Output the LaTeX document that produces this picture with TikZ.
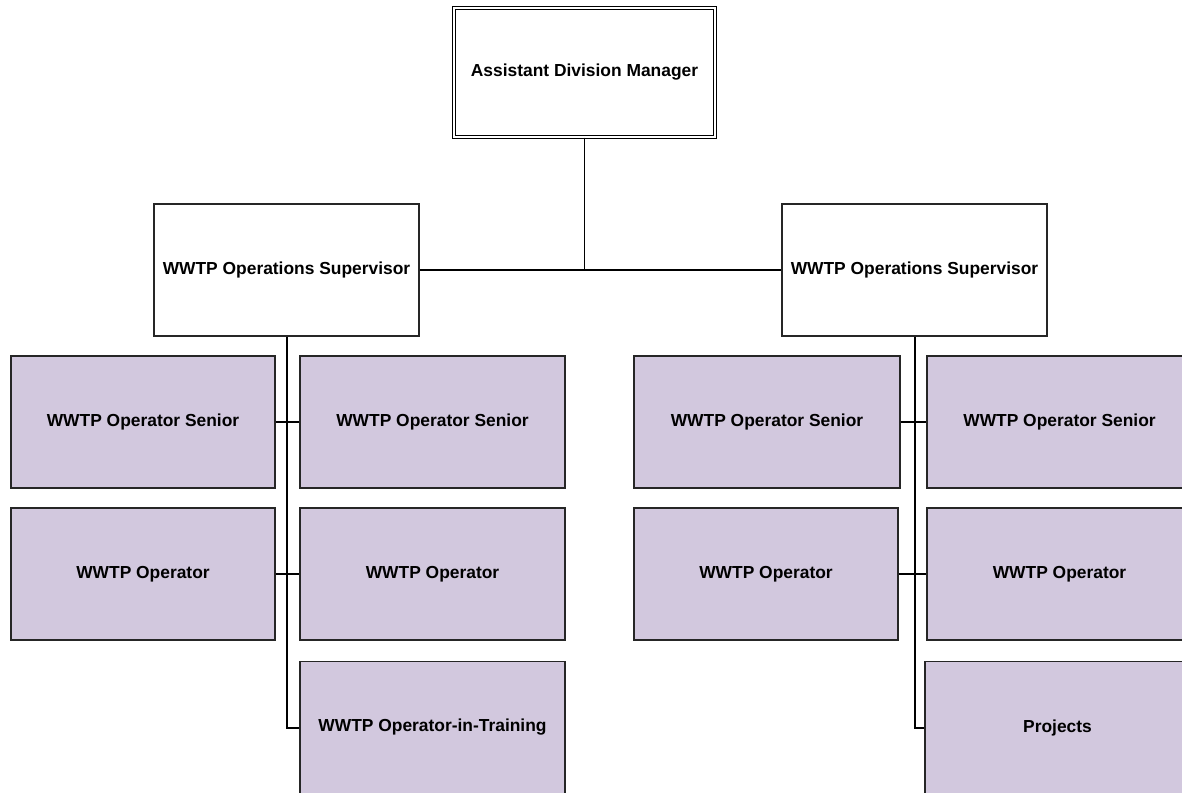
\documentclass[tikz,border=0pt]{standalone}
\usepackage{fontspec}
\setmainfont{Liberation Sans}
\definecolor{lav}{RGB}{210,200,222}
\begin{document}
\begin{tikzpicture}[x=1pt,y=-1pt,
  every node/.style={font=\fontsize{17.4}{20}\selectfont\bfseries, inner sep=0pt, align=center},
  box/.style={draw=black!85, line width=1.4pt, fill=white, minimum width=265pt, minimum height=132pt},
  sub/.style={box, fill=lav},
  topbox/.style={draw=black, line width=1.1pt, double=white, double distance=2.6pt, fill=white, minimum width=261pt, minimum height=129pt},
  conn/.style={draw=black, line width=1.5pt},
  spine/.style={draw=black, line width=2pt}]
\useasboundingbox (0,0) rectangle (1182,792);
\clip (0,0) rectangle (1182,792);
% top
\node[topbox] (top) at (584.5,72.5) {Assistant Division Manager};
% supervisors
\node[box] (supL) at (286.5,270) {WWTP Operations Supervisor};
\node[box] (supR) at (914.5,270) {WWTP Operations Supervisor};
% left group
\node[sub, minimum width=264pt] (lsA) at (143,422) {WWTP Operator Senior};
\node[sub] (lsB) at (432.5,422) {WWTP Operator Senior};
\node[sub, minimum width=264pt] (loA) at (143,574) {WWTP Operator};
\node[sub] (loB) at (432.5,574) {WWTP Operator};
\node[sub] (lit) at (432.5,727.5) {WWTP Operator-in-Training};
% right group
\node[sub, minimum width=266pt] (rsA) at (767,422) {WWTP Operator Senior};
\node[sub] (rsB) at (1059.5,422) {WWTP Operator Senior};
\node[sub, minimum width=264pt] (roA) at (766,574) {WWTP Operator};
\node[sub] (roB) at (1059.5,574) {WWTP Operator};
\node[sub] (rpj) at (1057.5,727.5) {Projects};
% connectors
\draw[conn] (top.south) -- (top.south |- supL.east);
\draw[conn] (supL.east) -- (supR.west);
\draw[spine] (supL.south) |- (lit.west);
\draw[conn] (lsA.east) -- (lsB.west);
\draw[conn] (loA.east) -- (loB.west);
\draw[spine] (supR.south) |- (rpj.west);
\draw[conn] (rsA.east) -- (rsB.west);
\draw[conn] (roA.east) -- (roB.west);
\end{tikzpicture}
\end{document}
